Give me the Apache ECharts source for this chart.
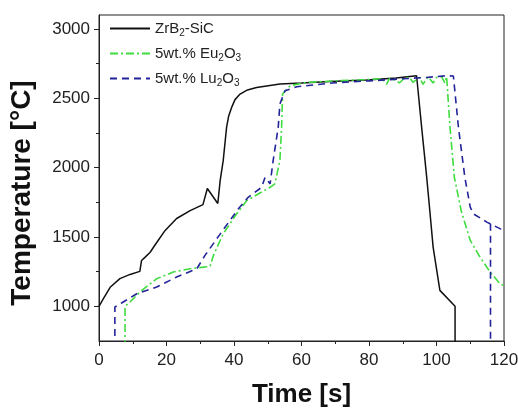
<!DOCTYPE html>
<html><head><meta charset="utf-8">
<script src="https://cdn.jsdelivr.net/npm/echarts@6/dist/echarts.min.js"></script>
<style>html,body{margin:0;padding:0;background:#fff}#c{width:518px;height:408px}</style>
</head><body><div id="c"></div>
<script>
// ZrB2-SiC (black solid)
const zrT = [0, 1.3, 3.3, 6.2, 9.2, 12.1, 12.6, 13.6, 15.1, 17.1, 19.6, 23, 27, 30.8, 32.1, 35.2, 35.9, 36.8, 37.8, 38.4, 39.3, 40.3, 41.8, 44, 46.7, 53.6, 60, 68.4, 79.3, 88, 94.1, 95.6, 97.1, 98.1, 99, 101, 105.5, 105.5];
const zrV = [1000, 1055, 1137, 1200, 1230, 1252, 1330, 1353, 1388, 1460, 1547, 1633, 1690, 1733, 1849, 1741, 1906, 2050, 2290, 2370, 2434, 2490, 2530, 2560, 2578, 2602, 2610, 2621, 2632, 2645, 2662, 2290, 1930, 1667, 1427, 1115, 1000, 700];
// 5wt.% Eu2O3 (green dash-dot)
const euT = [7.7, 7.7, 9.2, 12.1, 17.1, 22, 27, 32.9, 33.9, 36.8, 40.8, 43.8, 50.7, 52.1, 53.6, 54.1, 54.4, 56.6, 61.5, 70, 80, 84, 85.2, 86, 88, 89, 90.5, 92, 93, 95, 96, 97.5, 99, 100, 101.5, 102.5, 103, 103.4, 104, 105.3, 107.3, 110, 112.9, 115.9, 118.8, 120];
const euV = [700, 1000, 1031, 1103, 1199, 1247, 1271, 1288, 1367, 1523, 1667, 1763, 1858, 1883, 2050, 2290, 2530, 2590, 2614, 2625, 2635, 2640, 2600, 2640, 2630, 2610, 2645, 2650, 2615, 2650, 2600, 2655, 2610, 2650, 2655, 2610, 2655, 2650, 2290, 1930, 1690, 1475, 1355, 1247, 1163, 1150];
// 5wt.% Lu2O3 (blue dashed); null marks a break
const luT = [4.7, 4.7, 6.7, 11.2, 17.1, 23, 29, 31.4, 34.9, 38.8, 41.3, 44.2, 48.2, 49.2, 50.7, 51.6, 53.1, 53.6, 55.1, 58.6, 70, 80, 90, 97, 103, 105, 106.5, 108.4, 110, 110.9, 114.9, 115.9, 118.8, 120, 116, 116, 116];
const luV = [700, 995, 1024, 1091, 1139, 1211, 1271, 1367, 1487, 1619, 1703, 1786, 1858, 1930, 1883, 2050, 2290, 2458, 2554, 2583, 2612, 2625, 2640, 2650, 2662, 2660, 2290, 1930, 1715, 1667, 1607, 1595, 1560, 1550, null, 1595, 700];

const yMajor = [1000, 1500, 2000, 2500, 3000];
const yMinor = [1250, 1750, 2250, 2750];
const names = ['ZrB2-SiC', '5wt.% Eu2O3', '5wt.% Lu2O3'];

function pairs(t, v) { return t.map((x, i) => [x, v[i] === null ? '-' : v[i]]); }
const FONT = '"Liberation Sans", Arial, sans-serif';
const chart = echarts.init(document.getElementById('c'), null, {renderer: 'canvas'});
const plain = v => String(v);
const yBase = {
  type: 'value', min: 750, max: 3100, splitLine: {show: false},
  axisLine: {show: true, lineStyle: {color: '#222', width: 1}}
};
chart.setOption({
  animation: false,
  backgroundColor: '#fff',
  grid: {left: 99, right: 14, top: 15, bottom: 67, containLabel: false, outerBoundsMode: 'none', show: true, borderColor: '#222', borderWidth: 1},
  legend: {
    orient: 'vertical', left: 104, top: 16, itemWidth: 40, itemHeight: 12, itemGap: 8,
    data: names,
    itemStyle: {opacity: 0},
    formatter: function (n) {
      return n.replace(/B2/g, 'B{s|2}').replace(/O3/g, 'O{s|3}').replace(/u2O/g, 'u{s|2}O');
    },
    textStyle: {fontFamily: FONT, fontSize: 15, color: '#222', rich: {s: {fontFamily: FONT, fontSize: 10, color: '#222', padding: [9, 0, 0, 0]}}}
  },
  xAxis: {
    type: 'value', min: 0, max: 120, interval: 20,
    name: 'Time [s]', nameLocation: 'middle', nameGap: 41,
    nameTextStyle: {fontFamily: FONT, fontSize: 26, fontWeight: 'bold', color: '#111'},
    axisLine: {lineStyle: {color: '#222', width: 1}},
    axisTick: {show: true, inside: false, length: 5, lineStyle: {color: '#222'}},
    minorTick: {show: true, splitNumber: 2, length: 3, lineStyle: {color: '#222'}},
    axisLabel: {fontFamily: FONT, fontSize: 17, color: '#222', margin: 11, formatter: plain},
    splitLine: {show: false}
  },
  yAxis: [
    Object.assign({}, yBase, {
      name: 'Temperature [°C]', nameLocation: 'middle', nameGap: 63,
      nameTextStyle: {fontFamily: FONT, fontSize: 28, fontWeight: 'bold', color: '#111', padding: [0, 30, 0, 0]},
      axisTick: {show: true, inside: false, length: 5, customValues: yMajor, lineStyle: {color: '#222'}},
      axisLabel: {fontFamily: FONT, fontSize: 17, color: '#222', margin: 9, customValues: yMajor, formatter: plain}
    }),
    Object.assign({}, yBase, {
      position: 'left',
      axisTick: {show: true, inside: false, length: 3, customValues: yMinor, lineStyle: {color: '#222'}},
      axisLabel: {show: false}
    })
  ],
  series: [
    {name: names[0], type: 'line', symbol: 'none', data: pairs(zrT, zrV), lineStyle: {color: '#111', width: 1.5}, itemStyle: {color: '#111'}},
    {name: names[1], type: 'line', symbol: 'none', data: pairs(euT, euV), lineStyle: {color: '#3fdc3f', width: 1.6, type: [8, 3, 2, 3]}, itemStyle: {color: '#3fdc3f'}},
    {name: names[2], type: 'line', symbol: 'none', data: pairs(luT, luV), connectNulls: false, lineStyle: {color: '#23239a', width: 1.6, type: [7, 5]}, itemStyle: {color: '#23239a'}}
  ]
});
</script></body></html>
